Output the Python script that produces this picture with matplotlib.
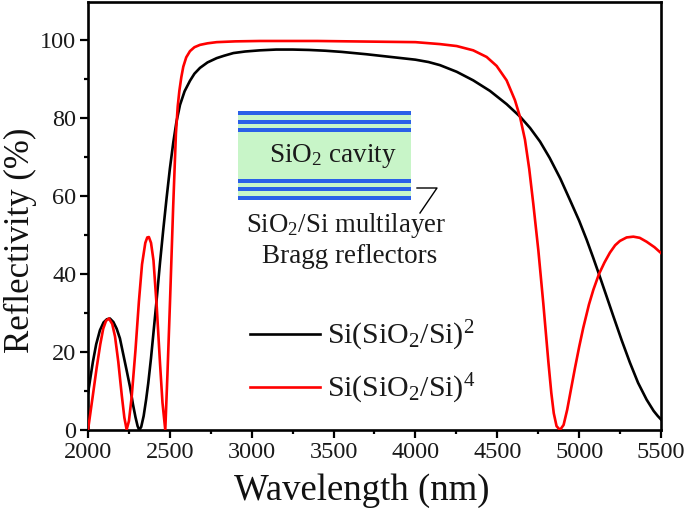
import matplotlib
matplotlib.use('Agg')
import matplotlib.pyplot as plt
from matplotlib.patches import Rectangle
from matplotlib.lines import Line2D

wl_black = [2000,2015,2030,2050,2073,2095,2115,2134,2155,2175,2195,2215,2235,2257,2275,2290,2303,2313,2325,2340,2355,2368,2385,2400,2419,2440,2460,2480,2500,2521,2540,2562,2590,2623,2650,2684,2730,2786,2830,2888,2960,3050,3150,3250,3350,3450,3550,3700,3850,4000,4080,4150,4252,4353,4455,4557,4639,4700,4761,4820,4885,4944,5000,5046,5085,5121,5165,5208,5260,5310,5360,5412,5455,5480,5500]
r_black = [9.4,13.5,17.5,22,25.6,27.6,28.4,28.6,27.7,26,23.5,19.5,15.5,11,6.5,3.3,1,0,0.8,3.6,7.8,12,18.5,25,33.3,43,51.5,59.5,67,73.8,79,83.4,86.9,89.6,91.4,92.9,94.3,95.4,96,96.7,97.1,97.4,97.6,97.6,97.5,97.3,97,96.4,95.7,95,94.4,93.6,91.9,89.7,87,83.6,80.4,77.5,74,69.8,64.5,59,53.7,48.8,44.3,40,34.6,29.3,23,17.3,12.1,7.8,4.9,3.6,2.7]
wl_red = [2000,2015,2030,2053,2075,2093,2110,2128,2148,2165,2185,2206,2222,2236,2250,2267,2290,2311,2330,2350,2362,2372,2385,2400,2420,2440,2455,2472,2485,2501,2520,2537,2548,2558,2570,2582,2600,2623,2650,2684,2730,2786,2900,3050,3400,3800,4000,4150,4252,4353,4435,4496,4557,4608,4639,4669,4695,4720,4751,4781,4812,4830,4845,4862,4883,4905,4927,4950,4975,5000,5025,5060,5087,5121,5155,5188,5220,5249,5290,5331,5370,5412,5460,5500]
r_red = [0,4.5,9,16,22,26,28,28.6,27.2,24,17.5,9,3.2,0.1,2.3,8.6,20.5,33,42.5,48,49.4,49.5,48,43.5,31.5,17,7,0,14,33,57,76,83,87,90.5,93.2,95.6,97.2,98.2,98.8,99.2,99.5,99.7,99.8,99.8,99.6,99.5,99,98.5,97.4,95.7,93.4,89.7,84.6,80.3,74.5,67,58,46,32.5,17.5,9.5,4.3,1,0,1.3,5.2,10.4,16,21.3,26.2,32.2,36,40,43,45.5,47.4,48.5,49.4,49.6,49.3,48.3,46.9,45.4]

x_ticks = [2000,2500,3000,3500,4000,4500,5000,5500]
y_ticks = [0,20,40,60,80,100]
x_label = 'Wavelength (nm)'
y_label = 'Reflectivity (%)'
legend_black = r'Si(SiO$_2$/Si)$^2$'
legend_red = r'Si(SiO$_2$/Si)$^4$'

plt.rcParams['font.family'] = ['Liberation Serif', 'DejaVu Serif']
plt.rcParams['mathtext.fontset'] = 'custom'
plt.rcParams['mathtext.rm'] = 'Liberation Serif'
plt.rcParams['mathtext.default'] = 'rm'

W, H = 685, 511
fig = plt.figure(figsize=(W/100, H/100), dpi=100)
L, R, T, B = 88, 661, 2, 430
ax = fig.add_axes([L/W, 1-B/H, (R-L)/W, (B-T)/H])
ax.set_xlim(2000, 5500)
ax.set_ylim(0, 109.8)

ax.plot(wl_black, r_black, color='black', lw=1.9, zorder=3, solid_joinstyle='round')
ax.plot(wl_red, r_red, color='#ff0000', lw=1.9, zorder=4, solid_joinstyle='round')

for s in ax.spines.values():
    s.set_linewidth(1.9)
ax.set_xticks(x_ticks)
ax.set_yticks(y_ticks)
ax.set_xticks(range(2250, 5500, 500), minor=True)
ax.set_yticks(range(10, 110, 20), minor=True)
ax.tick_params(which='major', length=5.5, width=1.6, labelsize=17.5, pad=3, labelcolor='#1a1a1a')
ax.tick_params(which='minor', length=3, width=1.6)

fig.text(362/W, 1-500/H, x_label, fontsize=26.5, ha='center', va='baseline', color='#111111')
fig.text(37/W, 1-240/H, y_label, fontsize=25, ha='right', va='center', rotation=90,
         rotation_mode='default', color='#111111')

def px_rect(x0, y0, x1, y1, color, z=2):
    fig.add_artist(Rectangle((x0/W, 1-y1/H), (x1-x0)/W, (y1-y0)/H, transform=fig.transFigure,
                             facecolor=color, edgecolor='none', zorder=z))

px_rect(238, 111, 411, 200, '#c8f5c8')
for y0 in (111, 120, 128, 179, 187, 196):
    px_rect(238, y0, 411, y0+4.5, '#2a5fe8')

text_color = '#1a1a1a'
fig.text(333/W, 1-162/H, r'SiO$_2$ cavity', fontsize=19.5, ha='center', va='baseline', zorder=5, color=text_color)
fig.text(346/W, 1-232/H, r'SiO$_2$/Si multilayer', fontsize=19.3, ha='center', va='baseline', zorder=5, color=text_color)
fig.text(350/W, 1-263/H, 'Bragg reflectors', fontsize=19.5, ha='center', va='baseline', zorder=5, color=text_color)
fig.add_artist(Line2D([417/W, 437/W, 420/W], [1-188/H, 1-188/H, 1-213/H], color='black', lw=1.0,
                      transform=fig.transFigure, zorder=5))

fig.add_artist(Line2D([250/W, 320/W], [1-334/H, 1-334/H], color='black', lw=1.9, transform=fig.transFigure, zorder=5))
fig.add_artist(Line2D([250/W, 320/W], [1-387/H, 1-387/H], color='#ff0000', lw=1.9, transform=fig.transFigure, zorder=5))
fig.text(327/W, 1-344/H, legend_black, fontsize=21.5, ha='left', va='baseline', zorder=5, color=text_color)
fig.text(327/W, 1-397/H, legend_red, fontsize=21.5, ha='left', va='baseline', zorder=5, color=text_color)

fig.savefig('out.png', dpi=100)
